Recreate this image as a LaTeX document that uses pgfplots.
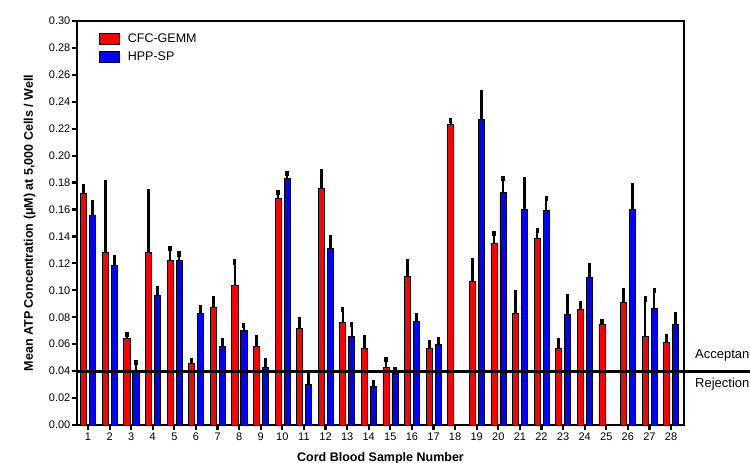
\documentclass[border=0pt]{standalone}
\usepackage{pgfplots}
\pgfplotsset{compat=1.18}
\usepackage{pgfplotstable}
\usepackage{fontspec}
\setmainfont{Liberation Sans}

\pgfplotstableread{
x y e
1 0.172 0.005
2 0.128 0.052
3 0.064 0.003
4 0.128 0.045
5 0.122 0.009
6 0.046 0.002
7 0.087 0.007
8 0.104 0.017
9 0.058 0.007
10 0.168 0.0045
11 0.0715 0.007
12 0.176 0.012
13 0.076 0.0095
14 0.057 0.008
15 0.0425 0.006
16 0.110 0.011
17 0.057 0.0045
18 0.223 0.003
19 0.107 0.015
20 0.135 0.007
21 0.0825 0.016
22 0.1385 0.006
23 0.057 0.0055
24 0.0855 0.005
25 0.0745 0.0025
26 0.091 0.009
27 0.0655 0.028
28 0.0615 0.004
}\cfcdata

\pgfplotstableread{
x y e
1 0.156 0.009
2 0.1185 0.0055
3 0.040 0.0065
4 0.096 0.0055
5 0.122 0.005
6 0.083 0.004
7 0.058 0.005
8 0.0705 0.0035
9 0.0425 0.005
10 0.183 0.004
11 0.030 0.008
12 0.131 0.008
13 0.0655 0.009
14 0.0285 0.003
15 0.038 0.003
16 0.077 0.0045
17 0.060 0.0035
19 0.227 0.020
20 0.173 0.010
21 0.160 0.022
22 0.159 0.009
23 0.082 0.013
24 0.1095 0.009
26 0.160 0.0175
27 0.0865 0.0135
28 0.075 0.007
}\hppdata

\pgfplotsset{
  errstyle/.style={forget plot, draw=none, mark=none,
    error bars/.cd, y dir=plus, y explicit,
    error bar style={draw=black, line width=2.6pt},
    error mark=-,
    error mark options={draw=black, line width=3.2pt, mark size=2.6pt}},
}

\begin{document}
\begin{tikzpicture}
\begin{axis}[
  at={(0,0)}, anchor=south west,
  scale only axis, width=607pt, height=404pt,
  xmin=0.49, xmax=28.6, ymin=0, ymax=0.30,
  xtick={1,...,28},
  ytick={0,0.02,0.04,0.06,0.08,0.10,0.12,0.14,0.16,0.18,0.20,0.22,0.24,0.26,0.28,0.30},
  scaled y ticks=false,
  yticklabel style={/pgf/number format/fixed, /pgf/number format/fixed zerofill, /pgf/number format/precision=2, /pgf/number format/assume math mode=true, xshift=-1.5pt},
  xticklabel style={/pgf/number format/assume math mode=true, yshift=-3pt},
  tick label style={font=\fontsize{11}{13}\selectfont, inner sep=0pt},
  tick align=outside, major tick length=5pt,
  tick style={line width=2.2pt, black},
  xtick pos=bottom, ytick pos=left,
  axis line style={line width=2.6pt},
  clip=false,
  xlabel={\bfseries Cord Blood Sample Number},
  xlabel style={at={(axis description cs:0.5,0)}, anchor=base, yshift=-36pt, font=\fontsize{12.5}{14}\selectfont},
  ylabel={\bfseries Mean ATP Concentration (μM) at 5,000 Cells / Well},
  ylabel style={at={(axis description cs:-0.0725,0.5)}, anchor=base, font=\fontsize{12.5}{14}\selectfont},
  legend style={at={(axis description cs:0.036,0.972)}, anchor=north west, draw=none, fill=none,
    inner sep=0pt, row sep=7pt, font=\fontsize{12.5}{14}\selectfont, nodes={inner sep=0pt},
    /tikz/every odd column/.append style={column sep=8pt}},
  legend cell align=left,
]
\addplot[ybar, bar width=6.1pt, bar shift=-4.3pt, fill=red, draw=black, line width=0.8pt,
  legend image code/.code={\draw[fill=red,draw=black,line width=0.8pt] (0pt,-5.5pt) rectangle (20pt,5.5pt);}]
  table[x=x, y=y] {\cfcdata};
\addlegendentry{CFC-GEMM}
\addplot[ybar, bar width=6.1pt, bar shift=4.7pt, fill=blue, draw=black, line width=0.8pt,
  legend image code/.code={\draw[fill=blue,draw=black,line width=0.8pt] (0pt,-5.5pt) rectangle (20pt,5.5pt);}]
  table[x=x, y=y] {\hppdata};
\addlegendentry{HPP-SP}
\addplot[errstyle] table[x expr=\thisrow{x}-0.199, y=y, y error=e] {\cfcdata};
\addplot[errstyle] table[x expr=\thisrow{x}+0.218, y=y, y error=e] {\hppdata};
\draw[line width=3pt, black] (axis cs:0.49,0.04) -- ([xshift=80pt]axis cs:28.6,0.04);
\node[anchor=west, inner sep=0pt, font=\fontsize{13}{15}\selectfont] at ([xshift=11pt,yshift=16pt]axis cs:28.6,0.04) {Acceptance};
\node[anchor=west, inner sep=0pt, font=\fontsize{13}{15}\selectfont] at ([xshift=11pt,yshift=-13pt]axis cs:28.6,0.04) {Rejection};
\end{axis}
\pgfresetboundingbox
\useasboundingbox (-77pt,-38pt) rectangle (673pt,425pt);
\end{tikzpicture}
\end{document}
